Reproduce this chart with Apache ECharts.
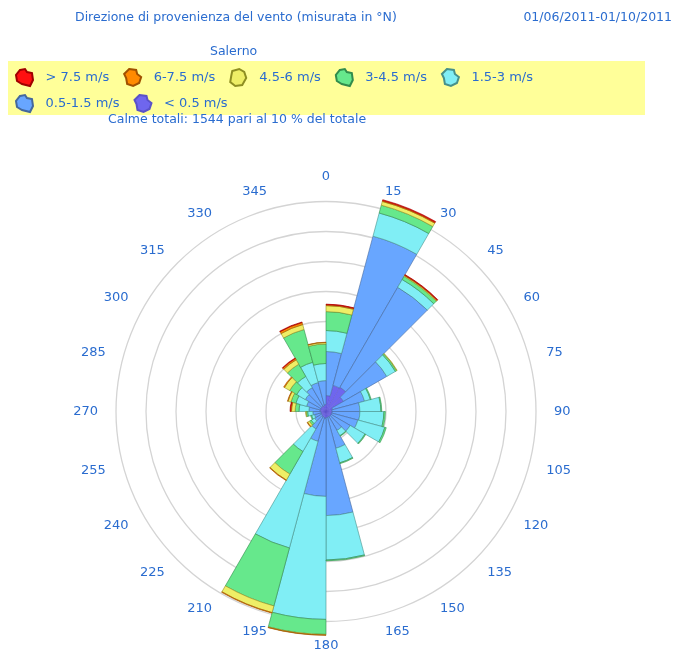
<!DOCTYPE html>
<html>
<head>
<meta charset="utf-8">
<script src="https://cdn.jsdelivr.net/npm/echarts@6/dist/echarts.min.js"></script>
<style>
  html, body { margin: 0; padding: 0; background: #fff; }
  #chart { width: 675px; height: 651px; }
</style>
</head>
<body>
<div id="chart"></div>
<script>
// direzioni (settori di 15 gradi, etichetta = inizio settore)
var directions = ['0', '15', '30', '45', '60', '75', '90', '105', '120', '135', '150', '165',
    '180', '195', '210', '225', '240', '255', '270', '285', '300', '315', '330', '345'];

// frequenze per classe di velocita' (un anello = 1)
var calm05 = [0.53, 0.90, 0.93, 0.67, 0.23, 0.20, 0.20, 0.20, 0.20, 0.20, 0.20, 0.20,
    0.23, 0.20, 0.20, 0.17, 0.17, 0.17, 0.20, 0.20, 0.20, 0.20, 0.20, 0.23];
var v05_15 = [1.47, 5.15, 3.85, 1.67, 1.10, 0.93, 0.93, 0.90, 0.73, 0.53, 1.07, 3.27,
    2.60, 0.83, 0.47, 0.27, 0.23, 0.27, 0.37, 0.47, 0.60, 0.72, 0.80, 0.80];
var v15_3 = [0.70, 0.80, 0.30, 0.33, 0.20, 0.70, 0.80, 0.93, 0.57, 0.20, 0.50, 1.48,
    4.10, 3.68, 0.87, 0.13, 0.10, 0.17, 0.33, 0.37, 0.33, 0.43, 0.70, 0.57];
var v3_45 = [0.63, 0.27, 0.12, 0.05, 0.03, 0.03, 0.05, 0.05, 0.03, 0.02, 0.03, 0.03,
    0.50, 2.00, 0.87, 0.07, 0.03, 0.05, 0.13, 0.17, 0.27, 0.47, 1.13, 0.65];
var v45_6 = [0.20, 0.13, 0.03, 0.02, 0, 0, 0, 0, 0, 0, 0, 0,
    0.02, 0.23, 0.23, 0.07, 0, 0.02, 0.12, 0.10, 0.20, 0.17, 0.17, 0.05];
var v6_75 = [0.03, 0.03, 0.02, 0, 0, 0, 0, 0, 0, 0, 0, 0,
    0.01, 0.02, 0.02, 0.02, 0, 0, 0.03, 0.02, 0.03, 0.05, 0.07, 0.01];
var v75 = [0.02, 0.03, 0.02, 0, 0, 0, 0, 0, 0, 0, 0, 0,
    0, 0, 0, 0, 0, 0, 0.02, 0, 0, 0.02, 0.02, 0];

var classes = [
    { name: '< 0.5 m/s', data: calm05, color: '#6f66ee', border: '#5a52c8', bw: 0.4 },
    { name: '0.5-1.5 m/s', data: v05_15, color: '#68a6ff', border: '#45689c', bw: 0.6 },
    { name: '1.5-3 m/s', data: v15_3, color: '#80eef5', border: '#47908a', bw: 0.6 },
    { name: '3-4.5 m/s', data: v3_45, color: '#66e88c', border: '#328c4c', bw: 0.6 },
    { name: '4.5-6 m/s', data: v45_6, color: '#eeee66', border: '#8e8e22', bw: 0.6 },
    { name: '6-7.5 m/s', data: v6_75, color: '#ff8a00', border: '#a05000', bw: 0.6 },
    { name: '> 7.5 m/s', data: v75, color: '#ff1010', border: '#a00000', bw: 0.6 }
];

var blobs = [
    'path://M4,1 L9,0 L11,3 L16,4 L17,11 L14,17 L6,15 L1,12 L0,6 Z',
    'path://M5,0 L12,1 L13,5 L17,8 L15,14 L9,17 L3,15 L2,9 L0,5 Z',
    'path://M3,2 L10,0 L15,3 L17,9 L13,16 L6,17 L1,13 L2,7 Z'
];

var blue = '#2a6ccf';
var font = 'DejaVu Sans';
var labelRadius = 7.6;   // etichette appena fuori dall'ultimo anello

var chart = echarts.init(document.getElementById('chart'));

var series = classes.map(function(c) {
    return {
        name: c.name,
        type: 'bar',
        coordinateSystem: 'polar',
        polarIndex: 0,
        stack: 'vento',
        barCategoryGap: '0%',
        // settori vuoti non disegnati (evita archi di bordo a spessore zero)
        data: c.data.map(function(v) { return v > 0 ? v : null; }),
        itemStyle: { color: c.color, borderColor: c.border, borderWidth: c.bw },
        emphasis: { disabled: true }
    };
});

// etichette delle direzioni: allineate come nell'originale
series.push({
    name: 'direzioni',
    type: 'scatter',
    coordinateSystem: 'polar',
    polarIndex: 1,
    symbolSize: 0,
    clip: false,
    silent: true,
    itemStyle: { opacity: 1 },
    data: directions.map(function(d) {
        var a = Number(d);
        var align = (a === 0 || a === 180) ? 'center' : (a < 180 ? 'left' : 'right');
        var vAlign = a === 0 ? 'bottom' : (a === 180 ? 'top' : 'middle');
        return {
            value: [labelRadius, a],
            label: { align: align, verticalAlign: vAlign }
        };
    }),
    label: {
        show: true, position: 'inside', color: blue, fontSize: 13, fontFamily: font,
        opacity: 1, textBorderWidth: 0, textBorderColor: 'transparent',
        formatter: function(p) { return directions[p.dataIndex]; }
    }
});

function legendItems(names) {
    return names.map(function(n, i) {
        return { name: n, icon: blobs[i % blobs.length] };
    });
}

var legendText = { color: blue, fontSize: 13, fontFamily: font, padding: [0, 0, 0, 7] };
var titleText = { color: blue, fontSize: 12.5, fontWeight: 'normal', fontFamily: font };

var option = {
    animation: false,
    title: [
        { text: 'Direzione di provenienza del vento (misurata in °N)', left: 75, top: 11,
          padding: 0, textStyle: titleText },
        { text: '01/06/2011-01/10/2011', right: 3, top: 11, padding: 0, textStyle: titleText },
        { text: 'Salerno', left: 210, top: 45, padding: 0, textStyle: titleText },
        { text: 'Calme totali: 1544 pari al 10 % del totale', left: 108, top: 113,
          padding: 0, textStyle: titleText }
    ],
    graphic: [{
        type: 'rect', z: -1,
        shape: { x: 8, y: 61, width: 637, height: 54 },
        style: { fill: '#ffff99' }
    }],
    legend: [
        { left: 15, top: 68, padding: 0, itemWidth: 18, itemHeight: 17, itemGap: 14,
          selectedMode: false, textStyle: legendText,
          data: legendItems(['> 7.5 m/s', '6-7.5 m/s', '4.5-6 m/s', '3-4.5 m/s', '1.5-3 m/s']) },
        { left: 15, top: 94, padding: 0, itemWidth: 18, itemHeight: 17, itemGap: 14,
          selectedMode: false, textStyle: legendText,
          data: legendItems(['0.5-1.5 m/s', '< 0.5 m/s']) }
    ],
    polar: [
        { center: [326, 411.5], radius: 240 },
        { center: [326, 411.5], radius: 210 }
    ],
    angleAxis: [
        { polarIndex: 0, type: 'category', data: directions, startAngle: 90, show: false },
        { polarIndex: 1, type: 'value', min: 0, max: 360, interval: 15, startAngle: 90,
          axisLine: { show: false }, axisTick: { show: false }, axisLabel: { show: false },
          splitLine: { show: false } }
    ],
    radiusAxis: [
        { polarIndex: 0, type: 'value', min: 0, max: 8, show: false },
        { polarIndex: 1, type: 'value', min: 0, max: 7, interval: 1,
          axisLine: { show: false }, axisTick: { show: false }, axisLabel: { show: false },
          splitLine: { show: true, lineStyle: { color: '#d4d4d4', width: 1.3 } } }
    ],
    series: series
};

chart.setOption(option);
</script>
</body>
</html>
